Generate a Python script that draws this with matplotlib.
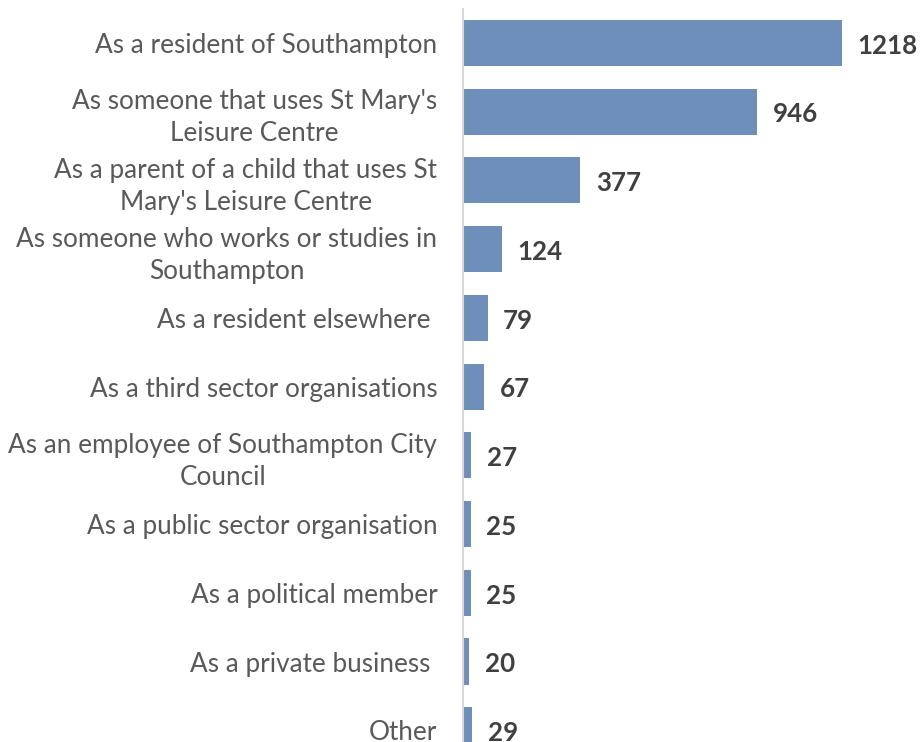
import matplotlib.pyplot as plt

categories = [
    "As a resident of Southampton",
    "As someone that uses St Mary's\nLeisure Centre",
    "As a parent of a child that uses St\nMary's Leisure Centre",
    "As someone who works or studies in\nSouthampton",
    "As a resident elsewhere ",
    "As a third sector organisations",
    "As an employee of Southampton City\nCouncil",
    "As a public sector organisation",
    "As a political member",
    "As a private business ",
    "Other",
]
values = [1218, 946, 377, 124, 79, 67, 27, 25, 25, 20, 29]

bar_color = '#6d8fb9'
plt.rcParams['font.family'] = ['Lato', 'DejaVu Sans']

fig = plt.figure(figsize=(9.22, 7.42), dpi=100)
# axes runs off the bottom edge, like the cropped original
ax = fig.add_axes([463 / 922, 1 - 764.6 / 742, 379 / 922, 756 / 742])

pos = list(range(len(values)))
ax.barh(pos, values, height=0.67, color=bar_color)
ax.set_ylim(len(values) - 0.5, -0.5)
ax.set_xlim(0, 1218)

for p, v in zip(pos, values):
    ax.text(v + 50, p + 0.04, str(v), va='center', ha='left', fontsize=18.6,
            fontweight='bold', color='#404040', clip_on=False)

ax.set_yticks(pos)
ax.set_yticklabels(categories, fontsize=18.8, color='#595959',
                   multialignment='center', linespacing=1.35)
ax.tick_params(axis='y', length=0, pad=18.5)
ax.set_xticks([])

for s in ['top', 'right', 'bottom']:
    ax.spines[s].set_visible(False)
ax.spines['left'].set_color('#d9d9d9')
ax.spines['left'].set_linewidth(1.5)

fig.savefig('out.png', dpi=100)
